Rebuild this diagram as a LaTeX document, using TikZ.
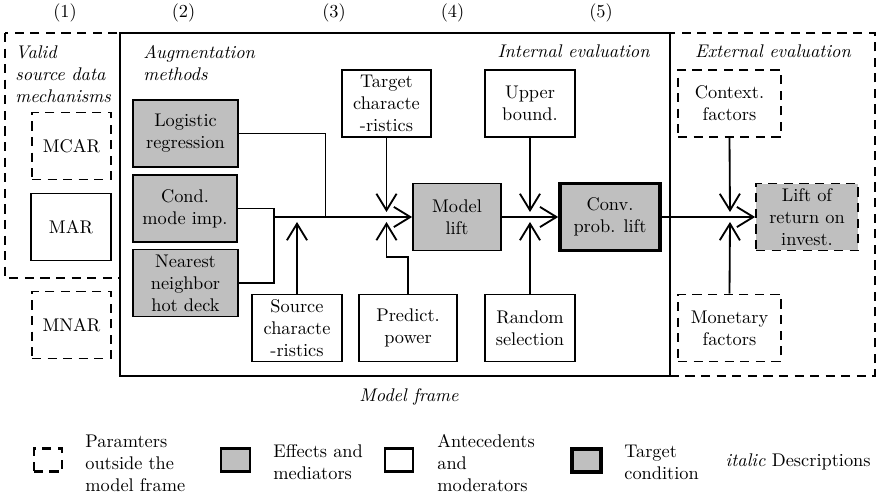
\documentclass[tikz,border=0pt]{standalone}
\usetikzlibrary{arrows.meta}
\begin{document}
\begin{tikzpicture}[x=0.54545pt,y=-0.54545pt,
  box/.style={draw, line width=1pt, align=center, inner sep=0pt, minimum height=36.5pt},
  eff/.style={box, fill=gray!50},
  ant/.style={box, fill=white},
  dsh/.style={dash pattern=on 5pt off 3.5pt},
  ext/.style={box, dsh},
  tgt/.style={box, fill=gray!50, line width=2pt},
  lab/.style={font=\itshape, inner sep=0pt},
  legtxt/.style={anchor=west, align=left, inner sep=0pt},
  legbox/.style={draw, line width=1.3pt, minimum width=15.5pt, minimum height=12.5pt, inner sep=0pt},
  conn/.style={line width=1pt},
  arr/.style={conn, -{Straight Barb[length=9pt,width=11pt]}},
  ]
\useasboundingbox (0,0) rectangle (880,495);

% column numbers
\node[anchor=base, inner sep=0pt] (c1) at (65,18) {(1)};
\node[anchor=base, inner sep=0pt] (c2) at (183.5,18) {(2)};
\node[anchor=base, inner sep=0pt] (c3) at (334,18) {(3)};
\node[anchor=base, inner sep=0pt] (c4) at (452.5,18) {(4)};
\node[anchor=base, inner sep=0pt] (c5) at (601,18) {(5)};

% frames
\draw[dsh, line width=1.2pt] (5,33) rectangle (120,278);
\draw[dsh, line width=1.2pt] (670,33) rectangle (875,376);
\draw[line width=1.3pt] (120,33) rectangle (670,376);

% frame labels
\node[lab, anchor=north west, align=left] (vs) at (15,45) {Valid\\source data\\mechanisms};
\node[lab, anchor=north west, align=left] (am) at (143,45) {Augmentation\\methods};
\node[lab, anchor=base east] (ie) at (650,57.5) {Internal evaluation};
\node[lab, anchor=base] (ee) at (773,57.5) {External evaluation};
\node[lab, anchor=base] (mfr) at (409,402) {Model frame};

% nodes
\node[ext, minimum width=43.1pt] (mcar) at (71.5,146) {MCAR};
\node[ant, minimum width=43.6pt] (mar) at (71,227) {MAR};
\node[ext, minimum width=43.1pt] (mnar) at (71.5,325) {MNAR};

\node[eff, minimum width=57.3pt] (lr) at (185.5,133.5) {Logistic\\regression};
\node[eff, minimum width=56.7pt] (cm) at (185,208.5) {Cond.\\mode imp.};
\node[eff, minimum width=57.3pt] (nn) at (185.5,283) {Nearest\\neighbor\\hot deck};
\node[ant, minimum width=49.1pt] (sc) at (297,328) {Source\\characte\\-ristics};
\node[ant, minimum width=48.5pt] (tc) at (386.5,103.5) {Target\\characte\\-ristics};
\node[eff, minimum width=48pt] (ml) at (457,217) {Model\\lift};
\node[ant, minimum width=53.5pt] (pp) at (408,328) {Predict.\\power};
\node[ant, minimum width=49.1pt] (ub) at (530,103.5) {Upper\\bound.};
\node[ant, minimum width=49.1pt] (rs) at (530,328) {Random\\selection};
\node[tgt, minimum width=54.5pt] (cp) at (610,217) {Conv.\\prob. lift};
\node[ext, minimum width=56.2pt] (cf) at (729.5,103.5) {Context.\\factors};
\node[ext, fill=gray!50, minimum width=55.6pt] (roi) at (807,217) {Lift of\\return on\\invest.};
\node[ext, minimum width=56.2pt] (mf) at (729.5,328) {Monetary\\factors};

% connectors
\coordinate (j1) at (274,217);
\coordinate (j2) at (325.5,217);
\draw[conn] (cm.east) -| (j1);
\draw[conn] (nn.east) -| (j1);
\draw[conn] (lr.east) -| (j2);
\draw[arr] (j1) -- (ml.west);

\coordinate (t1) at (297,222);
\coordinate (t2) at (386.5,212);
\coordinate (t3) at (386.5,222);
\coordinate (t4) at (530,212);
\coordinate (t5) at (530,222);
\coordinate (t6) at (730,212);
\coordinate (t7) at (730,222);
\draw[arr] (sc.north) -- (t1);
\draw[arr] (tc.south) -- (t2);
\draw[arr] (pp.north) -- ++(0,-37) -| (t3);
\draw[arr] (ml.east) -- (cp.west);
\draw[arr] (ub.south) -- (t4);
\draw[arr] (rs.north) -- (t5);
\draw[arr] (cp.east) -- (roi.west);
\draw[arr] (cf.south) -- (t6);
\draw[arr] (mf.north) -- (t7);

% legend
\node[legbox, dash pattern=on 5pt off 3.5pt] (l1) at (48,460) {};
\node[legtxt] (l1t) at (85,463) {Paramters\\outside the\\model frame};
\node[legbox, fill=gray!50] (l2) at (235.5,460) {};
\node[legtxt] (l2t) at (273,462) {Effects and\\mediators};
\node[legbox, fill=white] (l3) at (399,460) {};
\node[legtxt] (l3t) at (437,463) {Antecedents\\and\\moderators};
\node[legbox, fill=gray!50, line width=2.2pt] (l4) at (586.5,460.5) {};
\node[legtxt] (l4t) at (624,462) {Target\\condition};
\node[anchor=base east, inner sep=0pt] (l5) at (871,466) {\textit{italic} Descriptions};
\end{tikzpicture}
\end{document}
